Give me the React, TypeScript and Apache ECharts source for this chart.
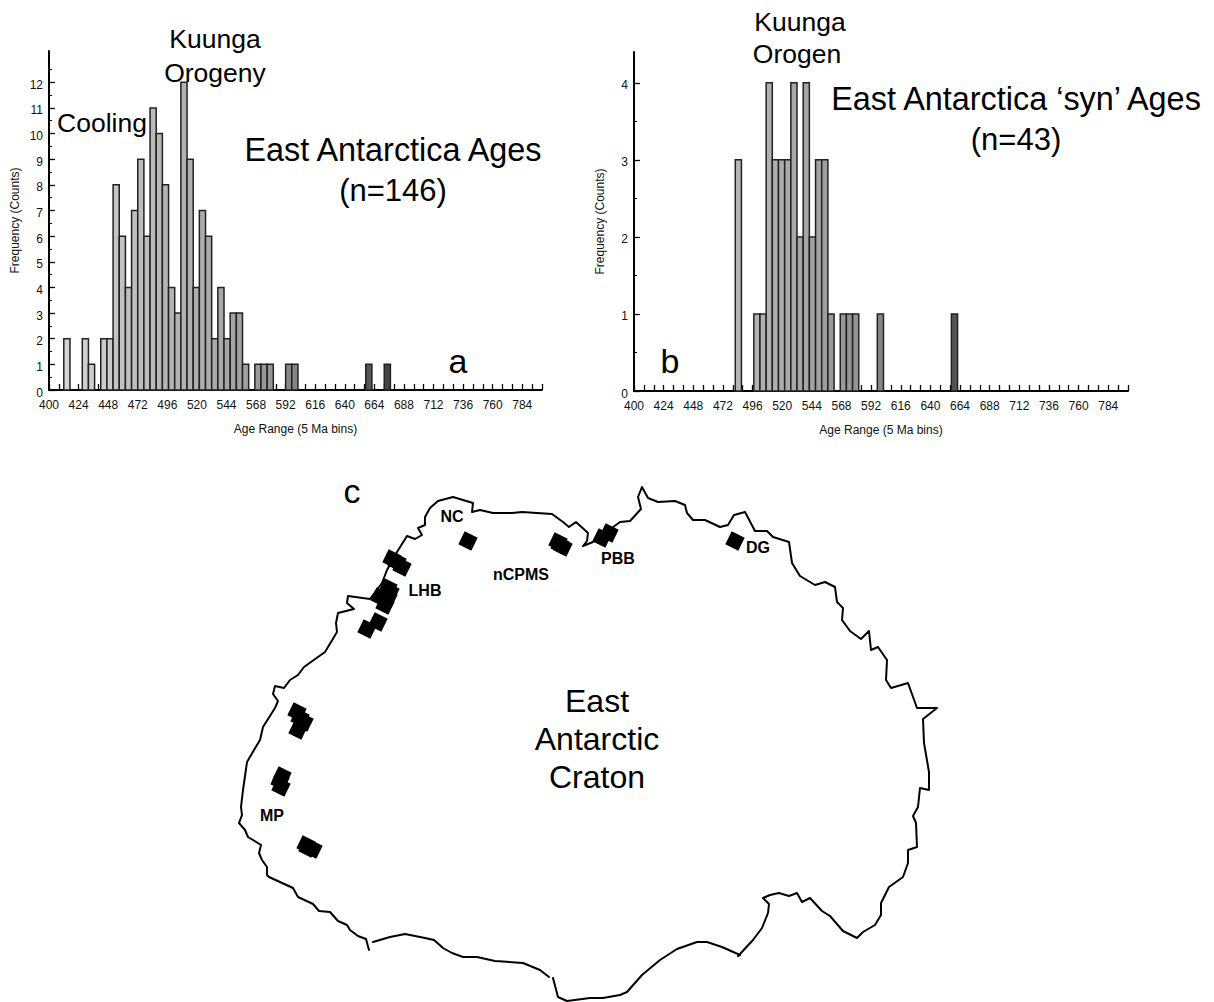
import React, { useEffect, useRef } from "react";
import * as echarts from "echarts";

const FONT = "'Liberation Sans', Arial, sans-serif";

// Panel a: left edge of each 5 Ma bin, count, grey
const binsA = [412,427,432,442,447,452,457,462,467,472,477,482,487,492,497,502,507,512,517,522,527,532,537,542,547,552,557,567,572,577,592,597,657,672];
const countsA = [2,2,1,2,2,8,6,4,7,9,6,11,10,8,4,3,12,9,4,7,6,2,4,2,3,3,1,1,1,1,1,1,1,1];
const shadesA = ["#d4d4d4","#d0d0d0","#cecece","#cbcbcb","#c9c9c9","#c4c4c4","#c2c2c2","#c0c0c0","#bebebe","#bcbcbc","#bbbbbb","#b9b9b9","#b8b8b8","#b6b6b6","#b4b4b4","#b3b3b3","#b2b2b2","#b0b0b0","#aeaeae","#acacac","#ababab","#aaaaaa","#a8a8a8","#a6a6a6","#a4a4a4","#a2a2a2","#a0a0a0","#9a9a9a","#989898","#969696","#888888","#868686","#555555","#444444"];

// Panel b
const binsB = [482,497,502,507,512,517,522,527,532,537,542,547,552,557,567,572,577,597,657];
const countsB = [3,1,1,4,3,3,3,4,2,4,2,3,3,1,1,1,1,1,1];
const shadesB = ["#b6b6b6","#b2b2b2","#b1b1b1","#b0b0b0","#aeaeae","#acacac","#aaaaaa","#a8a8a8","#a6a6a6","#a5a5a5","#a3a3a3","#a1a1a1","#9f9f9f","#9c9c9c","#989898","#969696","#949494","#868686","#555555"];

const yMajorA = [0,1,2,3,4,5,6,7,8,9,10,11,12];
const yMinorA = [0.5,1.5,2.5,3.5,4.5,5.5,6.5,7.5,8.5,9.5,10.5,11.5,12.5];
const yMajorB = [0,1,2,3,4];
const yMinorB = [0.5,1.5,2.5,3.5];

// Panel c: craton outline (map coordinates)
const coastMain = [[369,950],[366,939],[358,936],[350,930],[347,925],[338,921],[330,912],[319,911],[313,904],[298,897],[293,888],[269,877],[267,875],[267,867],[262,860],[259,853],[261,845],[248,837],[245,830],[239,823],[242,815],[241,807],[243,790],[247,762],[254,750],[260,740],[263,727],[275,708],[278,701],[273,694],[275,686],[284,688],[290,680],[298,675],[304,667],[325,652],[337,632],[336,623],[338,613],[354,609],[347,603],[348,596],[370,599],[382,583],[387,570],[397,552],[407,536],[415,539],[422,535],[418,528],[425,525],[425,517],[430,508],[438,501],[453,497],[473,503],[472,512],[480,510],[493,513],[512,513],[522,512],[537,513],[552,514],[563,522],[569,527],[576,522],[588,533],[587,541],[583,546],[593,542],[620,522],[630,521],[641,509],[638,497],[642,487],[648,498],[658,502],[675,501],[685,505],[687,513],[693,520],[705,520],[720,527],[728,525],[734,515],[745,512],[755,531],[767,531],[773,537],[789,542],[792,563],[800,576],[815,585],[825,582],[835,587],[837,602],[843,608],[842,620],[850,631],[861,639],[869,631],[871,650],[878,647],[887,660],[886,680],[891,688],[908,683],[917,708],[937,708],[923,719],[924,743],[929,772],[929,790],[920,788],[918,807],[913,816],[916,823],[917,847],[908,850],[908,863],[903,877],[889,887],[881,903],[881,915],[875,925],[863,932],[857,938],[843,931],[830,916],[822,911],[810,898],[802,902],[797,893],[789,896],[779,893],[770,895],[763,898],[769,904],[768,913],[762,928],[753,940],[740,954]];
const coastSouth = [[738,956],[740,955],[722,947],[707,942],[697,942],[677,949],[660,960],[642,975],[627,992],[620,995],[603,998],[590,998],[567,1001],[558,997],[553,978]];
const coastWestSouth = [[549,977],[540,970],[523,963],[495,961],[477,957],[463,957],[452,953],[443,948],[434,940],[425,938],[405,934],[390,937],[373,942]];
const samples = [[468,541],[558,542],[563,547],[560,545],[392,559],[402,567],[397,562],[388,588],[380,597],[388,598],[385,605],[390,592],[386,594],[378,622],[367,629],[609,533],[602,538],[735,541],[297,712],[304,722],[298,730],[300,718],[282,776],[281,787],[280,781],[306,845],[313,849],[308,848]];

const histogram = (name: string, bins: number[], counts: number[], shades: string[], idx: number) => ({
  name,
  type: "custom",
  xAxisIndex: idx,
  yAxisIndex: idx,
  clip: false,
  silent: true,
  data: bins.map((b, i) => [b, counts[i], i]),
  renderItem: (_p: any, api: any) => {
    const start = api.value(0);
    const a = api.coord([start, 0]);
    const b = api.coord([start + 5, api.value(1)]);
    return {
      type: "rect",
      shape: { x: a[0], y: b[1], width: b[0] - a[0], height: a[1] - b[1] },
      style: { fill: shades[api.value(2)], stroke: "#222", lineWidth: 1.5 },
    };
  },
});

const xAxis = (idx: number) => ({
  gridIndex: idx,
  type: "value",
  min: 400,
  max: 800,
  interval: 8,
  name: "Age Range (5 Ma bins)",
  nameLocation: "middle",
  nameGap: 33,
  nameTextStyle: { fontFamily: FONT, fontSize: 12, color: "#111" },
  splitLine: { show: false },
  axisLine: { show: true, onZero: false, lineStyle: { color: "#000", width: 2 } },
  axisTick: { show: true, inside: true, length: 6, lineStyle: { color: "#000", width: 1.3 } },
  axisLabel: {
    show: true,
    margin: 9,
    fontFamily: FONT,
    fontSize: 12,
    color: "#111",
    hideOverlap: false,
    showMinLabel: true,
    showMaxLabel: true,
    formatter: (v: number) => ((v - 400) % 24 === 0 ? String(v) : ""),
  },
});

const yAxis = (idx: number, max: number, major: number[]) => ({
  gridIndex: idx,
  type: "value",
  min: 0,
  max,
  name: "Frequency (Counts)",
  nameLocation: "middle",
  nameGap: 28,
  nameRotate: 90,
  nameTextStyle: { fontFamily: FONT, fontSize: 12, color: "#111" },
  splitLine: { show: false },
  axisLine: { show: true, onZero: false, lineStyle: { color: "#000", width: 2 } },
  axisTick: { show: true, inside: true, length: 6, customValues: major, lineStyle: { color: "#000", width: 1.3 } },
  axisLabel: {
    show: true,
    margin: 6,
    fontFamily: FONT,
    fontSize: 12,
    color: "#111",
    customValues: major,
    verticalAlign: "top",
    lineHeight: 5,
  },
});

const yMinor = (idx: number, max: number, minor: number[]) => ({
  gridIndex: idx,
  type: "value",
  min: 0,
  max,
  position: "left",
  splitLine: { show: false },
  axisLine: { show: false },
  axisLabel: { show: false },
  axisTick: { show: true, inside: true, length: 3, customValues: minor, lineStyle: { color: "#000", width: 1 } },
});

const big = (text: string, x: number, y: number, fontSize: number, fontWeight: string = "normal") => ({
  type: "text",
  silent: true,
  z: 50,
  style: { text, x, y, fill: "#000", font: `${fontWeight} ${fontSize}px ${FONT}`, textAlign: "center", textVerticalAlign: "middle" },
});

export default function App() {
  const ref = useRef<HTMLDivElement>(null);
  useEffect(() => {
    document.body.style.margin = "0";
    const chart = echarts.init(ref.current!, undefined, { renderer: "svg" });
    chart.setOption({
      animation: false,
      backgroundColor: "#fff",
      grid: [
        { left: 49, top: 51, width: 493, height: 339 },
        { left: 634, top: 52, width: 494, height: 339 },
        { left: 0, top: 0, width: 1214, height: 1002 },
      ],
      xAxis: [
        xAxis(0),
        xAxis(1),
        { gridIndex: 2, type: "value", min: 0, max: 1214, show: false },
      ],
      yAxis: [
        yAxis(0, 13.22, yMajorA),
        yAxis(1, 4.4, yMajorB),
        { gridIndex: 2, type: "value", min: 0, max: 1002, inverse: true, show: false },
        yMinor(0, 13.22, yMinorA),
        yMinor(1, 4.4, yMinorB),
      ],
      series: [
        histogram("East Antarctica Ages", binsA, countsA, shadesA, 0),
        histogram("East Antarctica syn Ages", binsB, countsB, shadesB, 1),
        ...[coastMain, coastSouth, coastWestSouth].map((coast, i) => ({
          name: `coast${i}`,
          type: "line",
          xAxisIndex: 2,
          yAxisIndex: 2,
          data: coast,
          symbol: "none",
          clip: false,
          silent: true,
          lineStyle: { color: "#000", width: 2, join: "round", cap: "round" },
        })),
        {
          name: "samples",
          type: "scatter",
          xAxisIndex: 2,
          yAxisIndex: 2,
          data: samples,
          symbol: "rect",
          symbolSize: 14.5,
          symbolRotate: -26,
          clip: false,
          silent: true,
          itemStyle: { color: "#000", opacity: 1 },
        },
      ],
      graphic: [
        big("Kuunga", 215, 39, 26.5),
        big("Orogeny", 215, 73, 26.5),
        big("Cooling", 102, 123, 26.5),
        big("East Antarctica Ages", 393, 150, 32.4),
        big("(n=146)", 393, 190, 31),
        big("a", 458, 361, 34),
        big("b", 670, 361, 34),
        big("Kuunga", 800, 22, 26.5),
        big("Orogen", 797, 54, 26.5),
        big("East Antarctica ‘syn’ Ages", 1016, 99, 32.4),
        big("(n=43)", 1016, 139, 31),
        big("c", 352, 491, 34),
        big("NC", 452, 516, 16, "bold"),
        big("LHB", 425, 590, 16, "bold"),
        big("nCPMS", 521, 574, 16, "bold"),
        big("PBB", 618, 558, 16, "bold"),
        big("DG", 758, 547, 16, "bold"),
        big("MP", 272, 815, 16, "bold"),
        big("East", 597, 701, 32),
        big("Antarctic", 597, 739, 32),
        big("Craton", 597, 777, 32),
      ],
    });
    return () => chart.dispose();
  }, []);
  return <div ref={ref} style={{ position: "absolute", left: 0, top: 0, width: 1214, height: 1002 }} />;
}
